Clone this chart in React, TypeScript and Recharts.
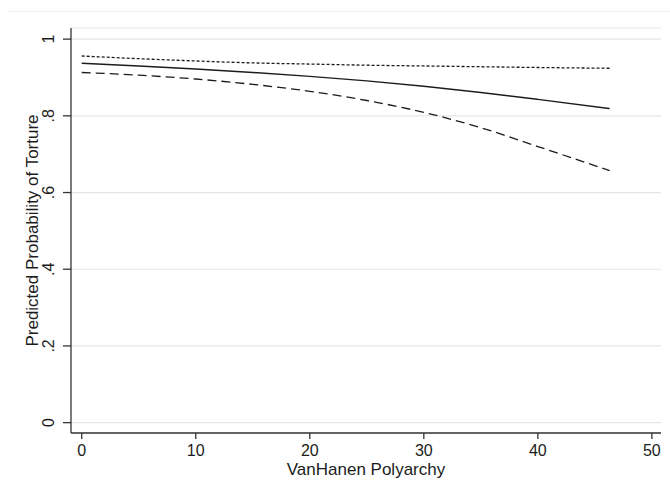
import React from "react";
import { LineChart, Line, XAxis, YAxis, CartesianGrid, Label } from "recharts";

const polyarchy = [0, 5, 10, 15, 20, 25, 30, 35, 40, 46.3];
// predicted probability (solid) and upper / lower bounds
const predicted = [0.937, 0.93, 0.922, 0.913, 0.903, 0.891, 0.877, 0.861, 0.843, 0.819];
const upper = [0.956, 0.949, 0.943, 0.938, 0.935, 0.932, 0.93, 0.928, 0.926, 0.924];
const lower = [0.913, 0.906, 0.896, 0.882, 0.864, 0.84, 0.809, 0.769, 0.72, 0.657];

const xTicks = [0, 10, 20, 30, 40, 50];
const yTicks = [0, 0.2, 0.4, 0.6, 0.8, 1];

const FONT = '"Liberation Sans", Arial, sans-serif';
const INK = "#1c1c1c";

const fmtProb = (v: number) => (v === 0 ? "0" : v === 1 ? "1" : String(v).replace(/^0/, ""));

// stata-style y labels, turned on their side
const YTick = (props: any) => {
  const { y, payload } = props;
  return (
    <text
      transform={`translate(54, ${y}) rotate(-90)`}
      textAnchor="middle"
      fontSize={16}
      fontFamily={FONT}
      fill={INK}
    >
      {fmtProb(payload.value)}
    </text>
  );
};

const App: React.FC = () => {
  const data = polyarchy.map((x, i) => ({
    x,
    pred: predicted[i],
    hi: upper[i],
    lo: lower[i],
  }));

  return (
    <div style={{ position: "absolute", left: 0, top: 0, width: 670, height: 495, background: "#fff" }}>
      <div
        style={{
          position: "absolute",
          left: 9,
          right: 0,
          top: 11,
          borderTop: "1px solid #ececec",
        }}
      />
      <LineChart width={670} height={495} data={data} margin={{ top: 28, right: 9, bottom: 32, left: 0 }}>
        <CartesianGrid horizontal vertical={false} stroke="#e6e6e6" strokeWidth={1.2} />
        <XAxis
          dataKey="x"
          type="number"
          height={30}
          domain={[-0.94, 50.8]}
          ticks={xTicks}
          allowDataOverflow
          stroke="#333"
          strokeWidth={1.3}
          tickSize={6}
          tickMargin={6}
          tick={{ fontSize: 16, fontFamily: FONT, fill: INK }}
        >
          <Label
            content={(p: any) => {
              const vb = p.viewBox || { x: 71, width: 590 };
              return (
                <text
                  x={vb.x + vb.width / 2}
                  y={475}
                  textAnchor="middle"
                  fontSize={17}
                  fontFamily={FONT}
                  fill={INK}
                >
                  VanHanen Polyarchy
                </text>
              );
            }}
          />
        </XAxis>
        <YAxis
          type="number"
          width={71}
          domain={[-0.027, 1.029]}
          ticks={yTicks}
          allowDataOverflow
          stroke="#333"
          strokeWidth={1.3}
          tickSize={8}
          tick={<YTick />}
        >
          <Label
            content={(p: any) => {
              const vb = p.viewBox || { y: 28, height: 405 };
              const cy = vb.y + vb.height / 2;
              return (
                <text
                  transform={`translate(38, ${cy}) rotate(-90)`}
                  textAnchor="middle"
                  fontSize={17}
                  fontFamily={FONT}
                  fill={INK}
                >
                  Predicted Probability of Torture
                </text>
              );
            }}
          />
        </YAxis>
        <Line
          type="monotone"
          dataKey="hi"
          stroke={INK}
          strokeWidth={1.3}
          strokeDasharray="3 2"
          dot={false}
          isAnimationActive={false}
        />
        <Line
          type="monotone"
          dataKey="pred"
          stroke={INK}
          strokeWidth={1.4}
          dot={false}
          isAnimationActive={false}
        />
        <Line
          type="monotone"
          dataKey="lo"
          stroke={INK}
          strokeWidth={1.3}
          strokeDasharray="9 5"
          dot={false}
          isAnimationActive={false}
        />
      </LineChart>
    </div>
  );
};

export default App;
